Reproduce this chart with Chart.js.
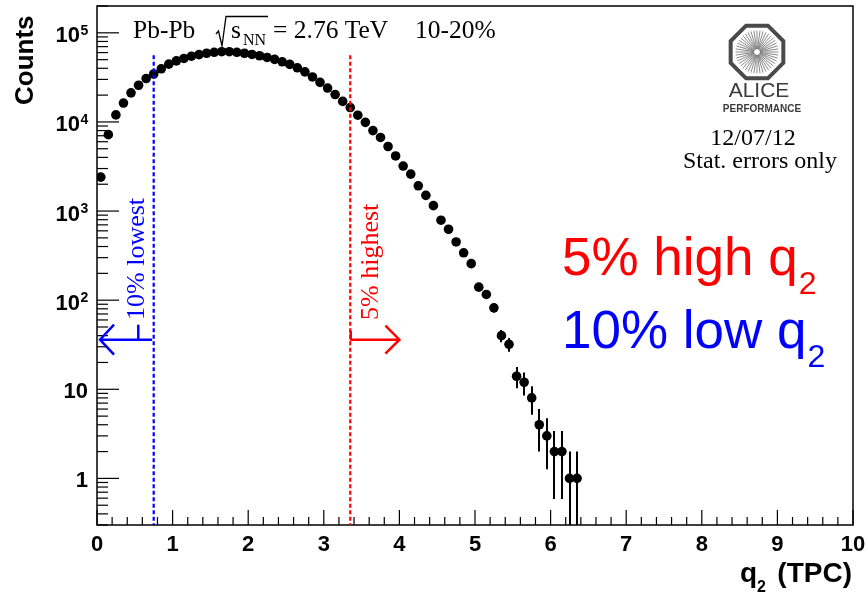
<!DOCTYPE html>
<html><head><meta charset="utf-8">
<script src="https://cdn.jsdelivr.net/npm/chart.js@4.4.1/dist/chart.umd.min.js"></script>
<style>html,body{margin:0;padding:0;background:#fff;}#wrap{width:867px;height:598px;position:relative;}</style>
</head><body><div id="wrap"><canvas id="c" width="867" height="598"></canvas></div>
<script>
// ---- data ----
const q2Centers = [0.05,0.15,0.25,0.35,0.45,0.55,0.65,0.75,0.85,0.95,
  1.05,1.15,1.25,1.35,1.45,1.55,1.65,1.75,1.85,1.95,
  2.05,2.15,2.25,2.35,2.45,2.55,2.65,2.75,2.85,2.95,
  3.05,3.15,3.25,3.35,3.45,3.55,3.65,3.75,3.85,3.95,
  4.05,4.15,4.25,4.35,4.45,4.55,4.65,4.75,4.85,4.95,
  5.05,5.15,5.25,5.35,5.45,5.55,5.65,5.75,5.85,5.95,
  6.05,6.15,6.25,6.35];
const counts = [2400,7200,12000,16300,21200,25800,30700,34500,39500,44500,
  48500,51600,54700,57000,59000,60500,61400,61400,60500,59000,
  57200,55300,52900,50300,47300,44200,40500,36500,32000,27800,
  24000,20300,17000,14500,11900,9900,8000,6700,5300,4150,
  3200,2600,1920,1500,1150,790,625,450,340,257,
  140,116,82,40,32,14,12,8,4,3,
  2,2,1,1];
const xTickValues = [0,1,2,3,4,5,6,7,8,9,10];
const xMin = 0, xMax = 10, yMin = 0.3, yMax = 2e5;
const yDecades = [1,10,100,1000,10000,100000];
const yDecadeBase = ['1','10','10','10','10','10'];
const yDecadeExp = ['','','2','3','4','5'];
const lowCut = 0.75, highCut = 3.35;     // 10% lowest / 5% highest q2 cuts
const cutLineTop = 56000;
const arrowLevel = 36;
const lowArrowEnd = 0.04, highArrowEnd = 4.0;

const SANS = '"Liberation Sans", Arial, Helvetica, sans-serif';
const SERIF = '"Liberation Serif", "Times New Roman", serif';

function frameBox(x, y) {
  return { L: x.getPixelForValue(xMin), R: x.getPixelForValue(xMax),
           T: y.getPixelForValue(yMax), B: y.getPixelForValue(yMin) };
}

const overlay = {
  id: 'overlay',
  beforeDatasetsDraw(chart) {
    const {ctx, scales: {x, y}} = chart;
    const {L, R, T, B} = frameBox(x, y);
    ctx.save();
    ctx.beginPath(); ctx.rect(L, T, R - L, B - T); ctx.clip();
    ctx.strokeStyle = '#000'; ctx.lineWidth = 2;
    q2Centers.forEach((q, i) => {
      const n = counts[i], e = Math.sqrt(n);
      const px = Math.round(x.getPixelForValue(q));
      const yHi = y.getPixelForValue(n + e);
      const yLo = (n - e) > 0 ? y.getPixelForValue(n - e) : B;
      ctx.beginPath(); ctx.moveTo(px, yHi); ctx.lineTo(px, Math.min(yLo, B)); ctx.stroke();
    });
    ctx.restore();
  },
  afterDraw(chart) {
    const {ctx, scales: {x, y}} = chart;
    const {L, R, T, B} = frameBox(x, y);
    ctx.save();
    // frame
    ctx.strokeStyle = '#000'; ctx.lineWidth = 1.5;
    ctx.strokeRect(L, T, R - L, B - T);
    // x ticks
    ctx.lineWidth = 1.2;
    for (let k = 0; k <= 50; k++) {
      const v = k * 0.2;
      const px = x.getPixelForValue(v);
      const major = (k % 5 === 0);
      ctx.beginPath(); ctx.moveTo(px, B); ctx.lineTo(px, B - (major ? 15 : 8)); ctx.stroke();
    }
    // y ticks
    for (let d = -1; d <= 5; d++) {
      for (let m = 1; m <= 9; m++) {
        const v = m * Math.pow(10, d);
        if (v < yMin - 1e-9 || v > yMax + 1) continue;
        const py = y.getPixelForValue(v);
        ctx.beginPath(); ctx.moveTo(L, py); ctx.lineTo(L + (m === 1 ? 22 : 11), py); ctx.stroke();
      }
    }
    // y labels
    ctx.fillStyle = '#000'; ctx.textBaseline = 'alphabetic';
    yDecades.forEach((v, i) => {
      const py = y.getPixelForValue(v);
      if (yDecadeExp[i]) {
        ctx.font = 'bold 22px ' + SANS; ctx.textAlign = 'right';
        ctx.fillText(yDecadeBase[i], 80, py + 9.5);
        ctx.font = 'bold 14px ' + SANS; ctx.textAlign = 'left';
        ctx.fillText(yDecadeExp[i], 80.5, py + 2);
      } else {
        ctx.font = 'bold 22px ' + SANS; ctx.textAlign = 'right';
        ctx.fillText(yDecadeBase[i], 88, py + 8.5);
      }
    });
    // y title
    ctx.save();
    ctx.translate(33, 105); ctx.rotate(-Math.PI / 2);
    ctx.font = 'bold 26px ' + SANS; ctx.textAlign = 'left';
    ctx.fillText('Counts', 0, 0);
    ctx.restore();
    // x title
    ctx.font = 'bold 28px ' + SANS; ctx.textAlign = 'right';
    ctx.fillText('(TPC)', 852, 582);
    ctx.textAlign = 'left';
    ctx.fillText('q', 740, 582);
    ctx.font = 'bold 16px ' + SANS;
    ctx.fillText('2', 757, 592);

    // cut lines
    ctx.lineWidth = 2.2; ctx.setLineDash([4, 2.5]);
    [[lowCut, '#0000ff'], [highCut, '#ff0000']].forEach(([c, col]) => {
      const px = x.getPixelForValue(c);
      ctx.strokeStyle = col;
      ctx.beginPath(); ctx.moveTo(px, y.getPixelForValue(cutLineTop)); ctx.lineTo(px, B); ctx.stroke();
    });
    ctx.setLineDash([]);
    // arrows
    const ay = y.getPixelForValue(arrowLevel);
    ctx.lineWidth = 2.5;
    ctx.strokeStyle = '#0000ff';
    let x0 = x.getPixelForValue(lowCut) - 1.5, x1 = x.getPixelForValue(lowArrowEnd);
    ctx.beginPath(); ctx.moveTo(x0, ay); ctx.lineTo(x1, ay);
    ctx.moveTo(x1 + 14, ay - 15); ctx.lineTo(x1, ay); ctx.lineTo(x1 + 14, ay + 15); ctx.stroke();
    ctx.strokeStyle = '#ff0000';
    x0 = x.getPixelForValue(highCut); x1 = x.getPixelForValue(highArrowEnd);
    ctx.beginPath(); ctx.moveTo(x0, ay); ctx.lineTo(x1, ay);
    ctx.moveTo(x1 - 14, ay - 14); ctx.lineTo(x1, ay); ctx.lineTo(x1 - 14, ay + 14); ctx.stroke();
    ctx.beginPath(); ctx.moveTo(x0 + 0.5, ay - 9); ctx.lineTo(x0 + 0.5, ay); ctx.stroke();
    ctx.strokeStyle = '#0000ff';
    const bx = x.getPixelForValue(0.546);
    ctx.beginPath(); ctx.moveTo(bx, ay - 15); ctx.lineTo(bx, ay); ctx.stroke();

    // rotated cut labels
    ctx.font = '26px ' + SERIF; ctx.textAlign = 'left';
    ctx.save(); ctx.translate(x.getPixelForValue(lowCut) - 10, 320); ctx.rotate(-Math.PI / 2);
    ctx.fillStyle = '#0000ff'; ctx.fillText('10% lowest', 0, 0); ctx.restore();
    ctx.save(); ctx.translate(x.getPixelForValue(highCut) + 28, 320); ctx.rotate(-Math.PI / 2);
    ctx.fillStyle = '#ff0000'; ctx.fillText('5% highest', 0, 0); ctx.restore();

    // big labels
    ctx.textAlign = 'left';
    const bigLabel = (txt, col, bx0, by0) => {
      ctx.fillStyle = col;
      ctx.font = '53px ' + SANS;
      ctx.fillText(txt, bx0, by0);
      const w = ctx.measureText(txt).width;
      ctx.font = '32px ' + SANS;
      ctx.fillText('2', bx0 + w + 1, by0 + 19);
    };
    bigLabel('5% high q', '#ff0000', 562, 275);
    bigLabel('10% low q', '#0000ff', 562, 348);

    // header text
    ctx.fillStyle = '#000'; ctx.font = '25.5px ' + SERIF;
    ctx.fillText('Pb-Pb', 133, 38);
    ctx.fillText('s', 231, 38);
    ctx.font = '16px ' + SERIF;
    ctx.fillText('NN', 243, 45);
    ctx.font = '25.5px ' + SERIF;
    ctx.fillText('= 2.76 TeV', 273, 38);
    ctx.fillText('10-20%', 415, 38);
    ctx.strokeStyle = '#000'; ctx.lineWidth = 1.3;
    ctx.beginPath(); ctx.moveTo(216, 34); ctx.lineTo(218.5, 31); ctx.lineTo(222, 46); ctx.lineTo(226, 16.5); ctx.lineTo(268, 16.5); ctx.stroke();

    // ALICE logo
    const cx = 757, cy = 52, Rr = 28.5;
    ctx.strokeStyle = '#7a7a7a'; ctx.lineWidth = 0.9;
    for (let k = 0; k < 44; k++) {
      const t = k * Math.PI * 2 / 44;
      ctx.beginPath(); ctx.moveTo(cx + 3 * Math.cos(t), cy + 3 * Math.sin(t));
      ctx.lineTo(cx + 21.5 * Math.cos(t), cy + 21.5 * Math.sin(t)); ctx.stroke();
    }
    ctx.strokeStyle = '#4a4a4a'; ctx.lineWidth = 4;
    ctx.beginPath();
    for (let k = 0; k < 8; k++) {
      const t = Math.PI / 8 + k * Math.PI / 4;
      const px = cx + Rr * Math.cos(t), py = cy + Rr * Math.sin(t);
      k === 0 ? ctx.moveTo(px, py) : ctx.lineTo(px, py);
    }
    ctx.closePath(); ctx.stroke();
    ctx.fillStyle = '#3a3a3a'; ctx.textAlign = 'center';
    ctx.font = '21px ' + SANS; ctx.fillText('ALICE', 759, 97);
    ctx.font = 'bold 10px ' + SANS; ctx.fillText('PERFORMANCE', 762, 112);
    ctx.fillStyle = '#000'; ctx.font = '24px ' + SERIF;
    ctx.fillText('12/07/12', 753, 145);
    ctx.fillText('Stat. errors only', 760, 168);
    ctx.restore();
  }
};

new Chart(document.getElementById('c').getContext('2d'), {
  type: 'scatter',
  data: { datasets: [{
    data: q2Centers.map((q, i) => ({ x: q, y: counts[i] })),
    backgroundColor: '#000', borderColor: '#000', pointRadius: 4.8, pointHoverRadius: 4.8, borderWidth: 0
  }] },
  options: {
    responsive: false, animation: false, devicePixelRatio: 1,
    layout: { padding: { left: 0, right: 14, top: 6, bottom: 0 } },
    plugins: { legend: { display: false }, tooltip: { enabled: false } },
    scales: {
      x: { type: 'linear', min: xMin, max: xMax,
        grid: { display: false, drawTicks: false }, border: { display: false },
        afterBuildTicks(s) { s.ticks = xTickValues.map(v => ({ value: v })); },
        ticks: { autoSkip: false, maxRotation: 0, padding: 7, color: '#000',
          font: { family: SANS, weight: 'bold', size: 22 } },
        afterFit(s) { s.height = 73; s.paddingLeft = 0; s.paddingRight = 0; } },
      y: { type: 'logarithmic', min: yMin, max: yMax,
        grid: { display: false, drawTicks: false }, border: { display: false },
        ticks: { display: false },
        afterFit(s) { s.width = 97; s.paddingTop = 0; s.paddingBottom = 0; } }
    }
  },
  plugins: [overlay]
});
</script></body></html>
